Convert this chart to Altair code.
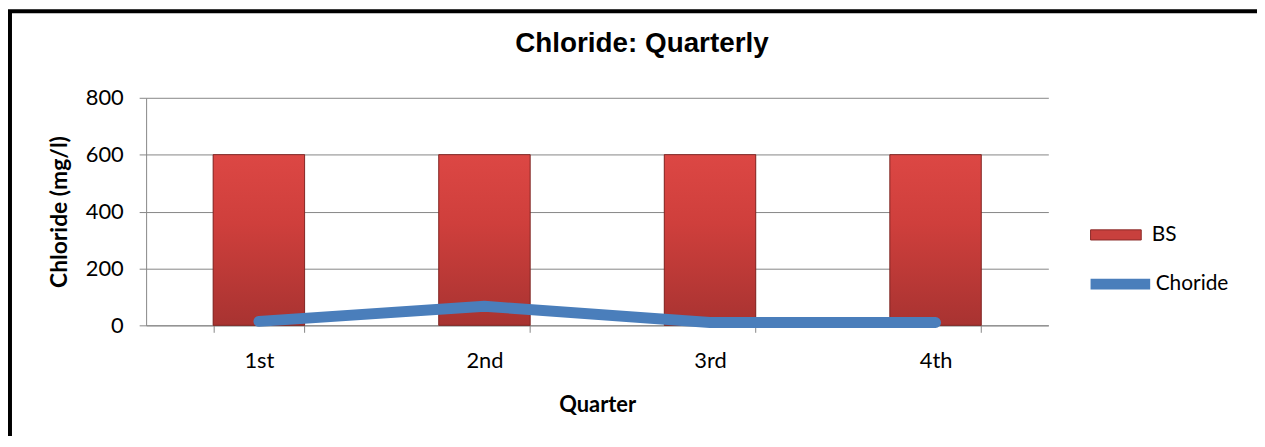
import altair as alt
import pandas as pd

quarters = ["1st", "2nd", "3rd", "4th"]
bs_values = [600, 600, 600, 600]
chloride_values = [14, 67, 10, 10]

df = pd.DataFrame({
    "Quarter": quarters,
    "BS": bs_values,
    "Choride": chloride_values,
    "bs_series": ["BS"] * 4,
    "line_series": ["Choride"] * 4,
})

FONT = "Lato"
W, H = 908, 229

base = alt.Chart(df)

x_enc = alt.X(
    "Quarter:N",
    sort=quarters,
    scale=alt.Scale(paddingInner=0.595, paddingOuter=0.2975),
    axis=alt.Axis(
        title="Quarter",
        labelAngle=0,
        tickBand="extent",
        grid=False,
        tickSize=7,
        labelPadding=18,
        titlePadding=24,
    ),
)
y_scale = alt.Scale(domain=[0, 800])
y_axis = alt.Axis(
    title="Chloride (mg/l)",
    values=[0, 200, 400, 600, 800],
    tickSize=7,
    labelPadding=16,
    titlePadding=14,
    titleFontSize=23,
    grid=True,
)

bars_legend = base.mark_bar(stroke="#7a2422", strokeWidth=0.5).encode(
    x=x_enc,
    y=alt.Y("BS:Q", scale=y_scale, axis=y_axis),
    fill=alt.Fill(
        "bs_series:N",
        scale=alt.Scale(domain=["BS"], range=["#c8403d"]),
        legend=alt.Legend(
            title=None,
            orient="none",
            legendX=950,
            legendY=112,
            symbolType="M-1,-0.2H1V0.2H-1Z",
            symbolSize=2601,
            symbolStrokeColor="#8a2a28",
            symbolStrokeWidth=1,
            labelFont=FONT,
            labelFontSize=21,
            labelColor="#000000",
            labelOffset=10,
            padding=0,
        ),
    ),
)

bars_grad = base.mark_bar(
    color=alt.LinearGradient(
        gradient="linear",
        x1=0, y1=0, x2=0, y2=1,
        stops=[
            alt.GradientStop(color="#dc4744", offset=0),
            alt.GradientStop(color="#cf3f3c", offset=0.4),
            alt.GradientStop(color="#a83331", offset=1),
        ],
    ),
    stroke="#7a2422",
    strokeWidth=0.8,
).encode(
    x=alt.X("Quarter:N", sort=quarters),
    y=alt.Y("BS:Q"),
)

line = base.mark_line(strokeWidth=11, strokeCap="round", strokeJoin="round").encode(
    x=alt.X("Quarter:N", sort=quarters),
    y=alt.Y("Choride:Q"),
    stroke=alt.Stroke(
        "line_series:N",
        scale=alt.Scale(domain=["Choride"], range=["#4a7ebb"]),
        legend=alt.Legend(
            title=None,
            orient="none",
            legendX=945,
            legendY=152,
            symbolType="stroke",
            symbolSize=3600,
            symbolStrokeWidth=11,
            labelFont=FONT,
            labelFontSize=21,
            labelColor="#000000",
            labelOffset=0,
            padding=0,
        ),
    ),
)

frame = alt.Chart(alt.Data(values=[{}])).mark_rect(
    fillOpacity=0, stroke="#000000", strokeWidth=4
).encode(
    x=alt.value(-137), x2=alt.value(1120), y=alt.value(-87), y2=alt.value(420)
)

chart = alt.layer(bars_legend, bars_grad, line, frame).properties(
    width=W,
    height=H,
    title=alt.TitleParams(
        "Chloride: Quarterly",
        font="Liberation Sans",
        fontSize=28,
        fontWeight="bold",
        color="#000000",
        dx=45,
        offset=-49,
    ),
    autosize=alt.AutoSizeParams(type="none"),
    padding={"left": 139, "top": 89, "right": 210, "bottom": 110},
).configure_view(stroke=None).configure_axis(
    labelFont=FONT,
    labelFontSize=22,
    labelColor="#000000",
    titleFont=FONT,
    titleFontSize=22,
    titleFontWeight="bold",
    titleColor="#000000",
    domainColor="#868686",
    tickColor="#868686",
    gridColor="#868686",
    gridWidth=1,
    domainWidth=1,
)

chart.save("out.html", embed_options={"renderer": "svg", "actions": False})
